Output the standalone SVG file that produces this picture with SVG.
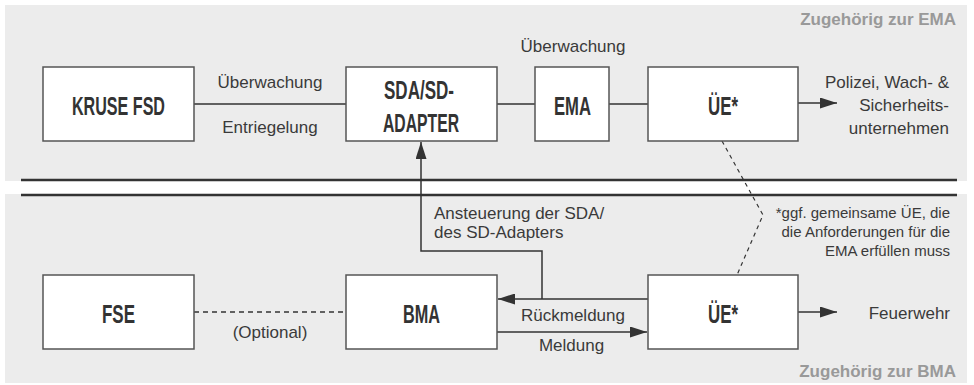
<svg xmlns="http://www.w3.org/2000/svg" width="974" height="385" viewBox="0 0 974 385">
<style>
.panel{fill:#ececec}
.sep{stroke:#333;stroke-width:2.5}
.box{fill:#fff;stroke:#555;stroke-width:1.5}
.bt{font-family:"Liberation Sans Narrow","Liberation Sans",sans-serif;font-weight:bold;font-size:26.5px;fill:#333;text-anchor:middle}
.t{font-family:"Liberation Sans",Arial,sans-serif;font-size:17px;fill:#3a3a3a}
.fn{font-family:"Liberation Sans",Arial,sans-serif;font-size:15px;fill:#3a3a3a;text-anchor:end}
.grp{font-family:"Liberation Sans",Arial,sans-serif;font-weight:bold;font-size:17px;fill:#999;text-anchor:end}
.c{stroke:#333;stroke-width:1.5;fill:none}
.d{stroke:#333;stroke-width:1.3;fill:none;stroke-dasharray:5 4}
.dd{stroke:#333;stroke-width:1.2;fill:none;stroke-dasharray:4 4}
</style>
<defs>
<marker id="ah" viewBox="0 0 17 11" refX="17" refY="5.5" markerWidth="17" markerHeight="11" markerUnits="userSpaceOnUse" orient="auto">
<path d="M0,0 L17,5.5 L0,11 z" fill="#333"/>
</marker>
</defs>
<rect class="panel" x="5" y="5" width="962" height="176"/>
<rect class="panel" x="5" y="194" width="962" height="189"/>
<line class="sep" x1="21" y1="180" x2="957" y2="180"/>
<line class="sep" x1="21" y1="195" x2="957" y2="195"/>
<text class="grp" x="956" y="25">Zugehörig zur EMA</text>
<text class="grp" x="956" y="377">Zugehörig zur BMA</text>
<g id="connectors">
<line class="c" x1="194" y1="104" x2="346" y2="104"/>
<line class="c" x1="497" y1="104" x2="535" y2="104"/>
<line class="c" x1="609" y1="104" x2="648" y2="104"/>
<line class="c" x1="798" y1="103" x2="837" y2="103" marker-end="url(#ah)"/>
<polyline class="c" points="542,299 542,251 421,251 421,142" marker-end="url(#ah)"/>
<line class="c" x1="648" y1="299" x2="498" y2="299" marker-end="url(#ah)"/>
<line class="c" x1="497" y1="332" x2="647" y2="332" marker-end="url(#ah)"/>
<line class="d" x1="194" y1="312" x2="346" y2="312"/>
<line class="c" x1="798" y1="312" x2="837" y2="312" marker-end="url(#ah)"/>
<polyline class="dd" points="722,141 763,215 737,275"/>
<text class="t" x="270" y="88" text-anchor="middle">Überwachung</text>
<text class="t" x="270" y="133" text-anchor="middle">Entriegelung</text>
<text class="t" x="573" y="52" text-anchor="middle">Überwachung</text>
<text class="t" x="434" y="219">Ansteuerung der SDA/</text>
<text class="t" x="434" y="238">des SD-Adapters</text>
<text class="t" x="573" y="321" text-anchor="middle">Rückmeldung</text>
<text class="t" x="571.5" y="351" text-anchor="middle">Meldung</text>
<text class="t" x="270" y="338" text-anchor="middle">(Optional)</text>
</g>
<g id="kruse-fsd">
<rect class="box" x="43" y="67" width="151" height="74"/>
<text class="bt" x="118.5" y="114.5" textLength="93" lengthAdjust="spacingAndGlyphs">KRUSE FSD</text>
</g>
<g id="sda-adapter">
<rect class="box" x="346" y="67" width="151" height="74"/>
<text class="bt" x="419" y="99" textLength="70" lengthAdjust="spacingAndGlyphs">SDA/SD-</text>
<text class="bt" x="421" y="132" textLength="76" lengthAdjust="spacingAndGlyphs">ADAPTER</text>
</g>
<g id="ema">
<rect class="box" x="535" y="67" width="74" height="74"/>
<text class="bt" x="572.5" y="114.5" textLength="37" lengthAdjust="spacingAndGlyphs">EMA</text>
</g>
<g id="ue-top">
<rect class="box" x="648" y="67" width="150" height="74"/>
<text class="bt" x="723" y="114.5" textLength="30" lengthAdjust="spacingAndGlyphs">ÜE*</text>
</g>
<g id="polizei">
<text class="t" x="949" y="88" text-anchor="end">Polizei, Wach- &amp;</text>
<text class="t" x="949" y="111" text-anchor="end">Sicherheits-</text>
<text class="t" x="949" y="134" text-anchor="end">unternehmen</text>
</g>
<g id="fse">
<rect class="box" x="43" y="275" width="151" height="74"/>
<text class="bt" x="118.5" y="322.5" textLength="33" lengthAdjust="spacingAndGlyphs">FSE</text>
</g>
<g id="bma">
<rect class="box" x="346" y="275" width="151" height="74"/>
<text class="bt" x="421.5" y="322.5" textLength="37" lengthAdjust="spacingAndGlyphs">BMA</text>
</g>
<g id="ue-bottom">
<rect class="box" x="648" y="275" width="150" height="74"/>
<text class="bt" x="723" y="322.5" textLength="30" lengthAdjust="spacingAndGlyphs">ÜE*</text>
</g>
<g id="feuerwehr">
<text class="t" x="950" y="319" text-anchor="end">Feuerwehr</text>
</g>
<g id="footnote">
<text class="fn" x="950" y="218">*ggf. gemeinsame ÜE, die</text>
<text class="fn" x="950" y="237">die Anforderungen für die</text>
<text class="fn" x="950" y="256">EMA erfüllen muss</text>
</g>
</svg>
